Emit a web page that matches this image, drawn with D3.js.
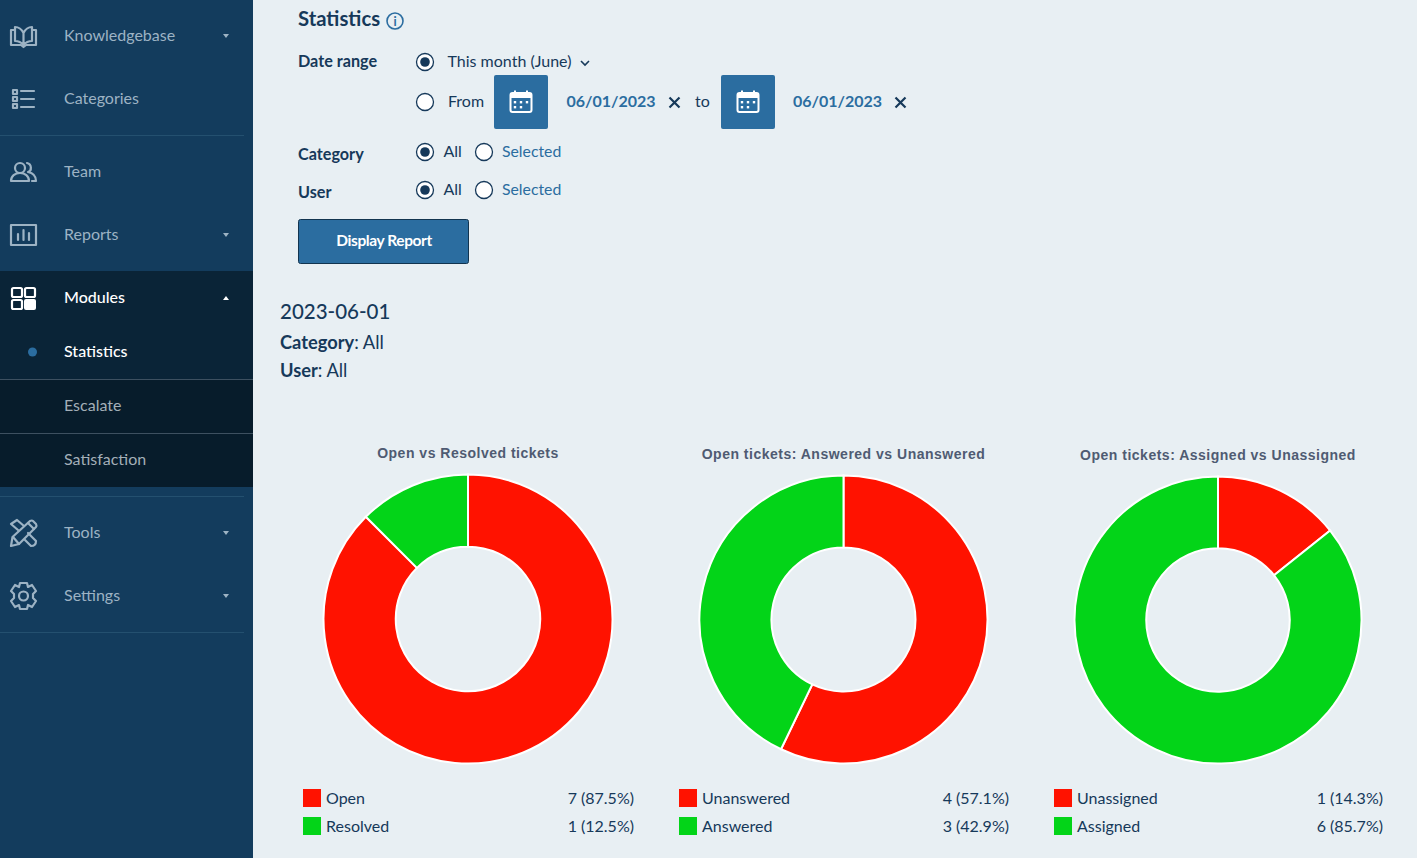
<!DOCTYPE html>
<html>
<head>
<meta charset="utf-8">
<script src="https://cdn.jsdelivr.net/npm/d3@7"></script>
<style>
  html, body { margin: 0; padding: 0; background: #e8eff3; overflow: hidden; }
  text { font-family: Lato, sans-serif; }
</style>
</head>
<body>
<svg id="page" width="1417" height="858"></svg>
<script>
// chart data
const chartTitles = ["Open vs Resolved tickets", "Open tickets: Answered vs Unanswered", "Open tickets: Assigned vs Unassigned"];
const chartLabels = [["Open", "Resolved"], ["Unanswered", "Answered"], ["Unassigned", "Assigned"]];
const chartValues = [[7, 1], [4, 3], [1, 6]];
const chartPercents = [["87.5%", "12.5%"], ["57.1%", "42.9%"], ["14.3%", "85.7%"]];
const sliceColors = ["#ff1200", "#03d418"];

// sidebar text
const navItems = ["Knowledgebase", "Categories", "Team", "Reports", "Modules", "Tools", "Settings"];
const subItems = ["Statistics", "Escalate", "Satisfaction"];

const svg = d3.select("#page");
const dark = "#16395a", blue = "#2b6da0", muted = "#9db3c4";

svg.append("rect").attr("width", 1417).attr("height", 858).attr("fill", "#e8eff3");

function label(parent, x, y, str, size, color, weight, anchor) {
  return parent.append("text").attr("x", x).attr("y", y).text(str)
    .attr("font-size", size).attr("fill", color)
    .attr("font-weight", weight || 400).attr("text-anchor", anchor || "start");
}

// ---- sidebar ----
const side = svg.append("g");
side.append("rect").attr("width", 253).attr("height", 858).attr("fill", "#133c5d");
side.append("rect").attr("y", 271).attr("width", 253).attr("height", 108).attr("fill", "#0a2437");
side.append("rect").attr("y", 379).attr("width", 253).attr("height", 108).attr("fill", "#071c2b");

[[135.5, 244, "#24506f"], [496.5, 244, "#24506f"], [632.5, 244, "#24506f"], [379.5, 253, "#3d5060"], [433.5, 253, "#3d5060"]]
  .forEach(d => side.append("line").attr("x1", 0).attr("x2", d[1]).attr("y1", d[0]).attr("y2", d[0]).attr("stroke", d[2]));

const navY = [35, 98, 171, 234, 297, 532, 595];
const hasCaret = [true, false, false, true, true, true, true];
navItems.forEach((name, i) => {
  const active = name === "Modules";
  label(side, 64, navY[i] + 6, name, 16, active ? "#ffffff" : muted, active ? 500 : 400);
  if (hasCaret[i]) {
    const y = navY[i];
    const pts = active ? `223,${y + 3} 229,${y + 3} 226,${y - 1}` : `223,${y - 1} 229,${y - 1} 226,${y + 3}`;
    side.append("polygon").attr("points", pts).attr("fill", active ? "#ffffff" : muted);
  }
});
const subY = [351, 405, 459];
subItems.forEach((name, i) => {
  label(side, 64, subY[i] + 6, name, 16, i === 0 ? "#ffffff" : "#a3afb8", i === 0 ? 500 : 400);
});
side.append("circle").attr("cx", 32.5).attr("cy", 352).attr("r", 4.5).attr("fill", blue);

// sidebar icons, outline paths
const iconStyle = g => g.attr("fill", "none").attr("stroke", muted).attr("stroke-width", 2.2).attr("stroke-linecap", "round").attr("stroke-linejoin", "round");
const icons = [
  ["M15 30H11V45H21L23.5 47L26 45H36V30H32", "M23.5 33C21 28 18 27 15 27V41C18 41 21 42 23.5 45C26 42 29 41 32 41V27C29 27 26 28 23.5 33V45"],
  ["M13 90h4v4h-4z", "M13 97h4v4h-4z", "M13 104h4v4h-4z", "M21 91H34", "M21 99H34", "M21 107H34"],
  ["M11 181C11 176 15 173 20 173C25 173 29 176 29 181H11", "M15 168A5 5 0 1 0 25 168A5 5 0 1 0 15 168", "M27 163C32 164 32 171 28 172C33 173 36 176 36 181H32"],
  ["M11 225H36V245H11Z", "M18 240V234", "M23.5 240V230", "M29 240V233"]
];
icons.forEach(paths => {
  const g = side.append("g").call(iconStyle);
  paths.forEach(p => g.append("path").attr("d", p));
});
const modules = side.append("g").attr("fill", "none").attr("stroke", "#ffffff").attr("stroke-width", 2.2);
[[12, 288], [25, 288], [12, 300]].forEach(d => modules.append("rect").attr("x", d[0]).attr("y", d[1]).attr("width", 10).attr("height", 9).attr("rx", 1.5));
side.append("rect").attr("x", 24).attr("y", 299).attr("width", 12).attr("height", 11).attr("rx", 2).attr("fill", "#ffffff");

const tools = side.append("g").call(iconStyle);
["M11 546L12.5 537L30 521Q32 520 33 521L36 524Q37 526 36 527L19 544Z", "M28 523L34 529", "M13 537L19 544",
 "M18 530L11 524L17 520L24 526", "M28 533L36 541Q36 546 31 546L25 540"]
  .forEach(p => tools.append("path").attr("d", p));
const gear = side.append("g").call(iconStyle);
gear.append("circle").attr("cx", 23.5).attr("cy", 596).attr("r", 4.5);
gear.append("path").attr("d", "M20 583H27L28 587L32 585L36 591L33 594V598L36 601L32 607L28 605L27 609H20L19 605L15 607L11 601L14 598V594L11 591L15 585L19 587Z");

// ---- filter form ----
const form = svg.append("g");
label(form, 298, 26, "Statistics", 20.3, dark, 700);
form.append("circle").attr("cx", 395).attr("cy", 21).attr("r", 8).attr("fill", "none").attr("stroke", blue).attr("stroke-width", 1.6);
label(form, 395, 26, "i", 12.5, blue, 700, "middle");

label(form, 298, 67, "Date range", 16.2, dark, 700);
label(form, 298, 160, "Category", 16.2, dark, 700);
label(form, 298, 198, "User", 16.2, dark, 700);

function radio(x, y, on) {
  form.append("circle").attr("cx", x).attr("cy", y).attr("r", 8.5).attr("fill", "#ffffff").attr("stroke", dark).attr("stroke-width", 1.3);
  if (on) form.append("circle").attr("cx", x).attr("cy", y).attr("r", 4.8).attr("fill", dark);
}
radio(425, 62, true);
radio(425, 102, false);
radio(425, 152, true);
radio(484, 152, false);
radio(425, 190, true);
radio(484, 190, false);

label(form, 447.5, 67, "This month (June)", 16, dark);
form.append("path").attr("d", "M581 61L585 65L589 61").attr("fill", "none").attr("stroke", dark).attr("stroke-width", 1.6);
label(form, 448, 107, "From", 16, dark);
label(form, 695, 107, "to", 16, dark);
label(form, 443.5, 157, "All", 16, dark);
label(form, 443.5, 195, "All", 16, dark);
label(form, 502, 157, "Selected", 15.8, blue);
label(form, 502, 195, "Selected", 15.8, blue);

function calendar(x) {
  form.append("rect").attr("x", x).attr("y", 75).attr("width", 54).attr("height", 54).attr("rx", 2).attr("fill", blue);
  const cx = x + 27;
  form.append("rect").attr("x", cx - 10.5).attr("y", 93).attr("width", 21).attr("height", 19).attr("rx", 2)
    .attr("fill", "none").attr("stroke", "#ffffff").attr("stroke-width", 2);
  form.append("rect").attr("x", cx - 10.5).attr("y", 94).attr("width", 21).attr("height", 4).attr("fill", "#ffffff");
  [-6, 0, 6].forEach(dx => {
    form.append("rect").attr("x", cx + dx - 1.2).attr("y", 101).attr("width", 2.4).attr("height", 2.4).attr("fill", "#ffffff");
    if (dx < 6) form.append("rect").attr("x", cx + dx - 1.2).attr("y", 106).attr("width", 2.4).attr("height", 2.4).attr("fill", "#ffffff");
  });
  [-6, 6].forEach(dx => form.append("line").attr("x1", cx + dx).attr("x2", cx + dx).attr("y1", 90.5).attr("y2", 94)
    .attr("stroke", "#ffffff").attr("stroke-width", 2));
}
calendar(494);
calendar(721);

function dateField(x, str, xMark) {
  label(form, x, 107, str, 16, blue, 700);
  form.append("path").attr("d", `M${xMark - 5} 97.5L${xMark + 5} 107.5M${xMark + 5} 97.5L${xMark - 5} 107.5`)
    .attr("stroke", dark).attr("stroke-width", 2.2);
}
dateField(566.5, "06/01/2023", 674.5);
dateField(793, "06/01/2023", 900.5);

form.append("rect").attr("x", 298.5).attr("y", 219.5).attr("width", 170).attr("height", 44).attr("rx", 2)
  .attr("fill", blue).attr("stroke", "#12344f");
label(form, 384, 246, "Display Report", 15.5, "#ffffff", 700, "middle").attr("letter-spacing", -0.4);

// report heading
label(form, 280, 319, "2023-06-01", 20.5, dark, 700).attr("font-weight", 500);
const catLine = label(form, 280, 349, "Category", 18.3, dark, 700);
catLine.append("tspan").attr("font-weight", 400).text(": All");
const userLine = label(form, 280, 377, "User", 18.3, dark, 700);
userLine.append("tspan").attr("font-weight", 400).text(": All");

// ---- donut charts ----
const cx = [468, 843.5, 1218];
const cy = [619, 619.5, 620];
const outerR = [144.5, 144, 143.5];
const titleY = [458, 459, 460];
const legendLeft = [303, 679, 1054];
const legendRight = [634, 1009, 1383];
const legendY = [798, 826];

const pie = d3.pie().sort(null);

chartTitles.forEach((title, c) => {
  const g = svg.append("g");
  const color = d3.scaleOrdinal().domain(chartLabels[c]).range(sliceColors);
  const arc = d3.arc().innerRadius(outerR[c] / 2).outerRadius(outerR[c]);

  g.append("text").attr("x", cx[c]).attr("y", titleY[c]).attr("text-anchor", "middle")
    .style("font-family", "'Liberation Sans', Arial, sans-serif").attr("font-size", 14).attr("font-weight", 700)
    .attr("letter-spacing", 0.5).attr("fill", "#4f5b72").text(title);

  g.append("g").attr("transform", `translate(${cx[c]},${cy[c]})`)
    .selectAll("path").data(pie(chartValues[c])).join("path")
    .attr("d", arc)
    .attr("fill", (d, i) => color(chartLabels[c][i]))
    .attr("stroke", "#ffffff").attr("stroke-width", 2);

  chartLabels[c].forEach((name, i) => {
    g.append("rect").attr("x", legendLeft[c]).attr("y", legendY[i] - 9).attr("width", 18).attr("height", 18)
      .attr("fill", color(name));
    label(g, legendLeft[c] + 23, legendY[i] + 6, name, 16, dark);
    label(g, legendRight[c], legendY[i] + 6, `${chartValues[c][i]} (${chartPercents[c][i]})`, 16, dark, 400, "end");
  });
});
</script>
</body>
</html>
